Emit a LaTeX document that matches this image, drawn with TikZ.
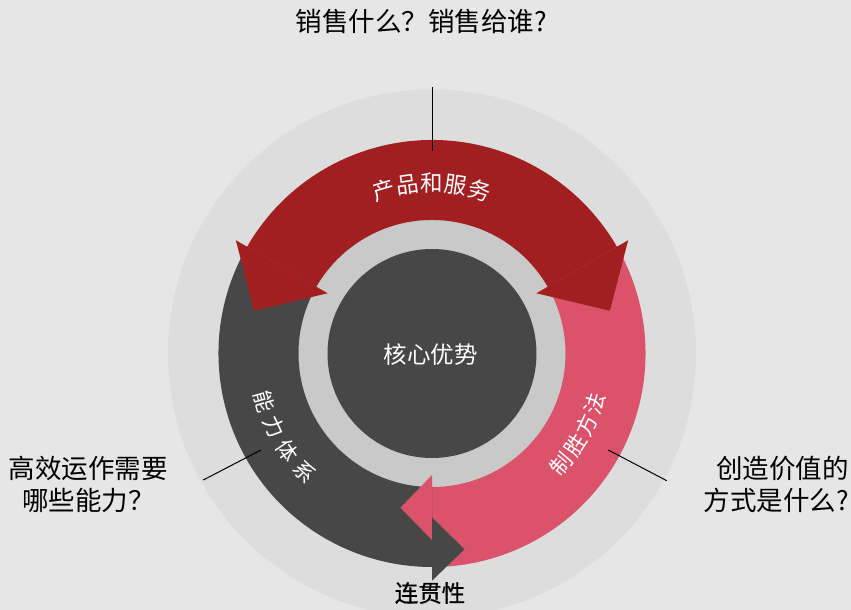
\documentclass[tikz,border=0pt]{standalone}
\usepackage{fontspec}
\setmainfont{Noto Sans CJK SC}
\newfontfamily\medfont[FakeBold=0.8]{Noto Sans CJK SC}
\definecolor{bgc}{HTML}{E6E6E6}
\definecolor{bigc}{HTML}{DDDDDD}
\definecolor{ringc}{HTML}{C9C9C9}
\definecolor{darkc}{HTML}{474747}
\definecolor{redc}{HTML}{A11F21}
\definecolor{pinkc}{HTML}{DB536B}

\begin{document}
\begin{tikzpicture}[x=1pt, y=1pt,
  ringtxt/.style={text=white, font=\fontsize{21.5}{21.5}\selectfont, inner sep=0pt},
  asktxt/.style={font=\fontsize{26.5}{32}\selectfont, inner sep=0pt},
  leadline/.style={line width=1pt}]
\useasboundingbox[fill=bgc] (-432,-256.5) rectangle (419,353.5);
\fill[bigc] (0,0) circle (264);
\fill[ringc] (0,0) circle (133.5);
\fill[darkc] (0,0) circle (104.5);
\fill[pinkc] (30:213.5) arc[start angle=30, end angle=-90, radius=213.5] -- (-90:133.5) arc[start angle=-90, end angle=30, radius=133.5] -- cycle;
\fill[darkc] (150:213.5) arc[start angle=150, end angle=270, radius=213.5] -- (270:133.5) arc[start angle=270, end angle=150, radius=133.5] -- cycle;
\fill[redc] (150:213.5) arc[start angle=150, end angle=30, radius=213.5] -- (30:133.5) arc[start angle=30, end angle=150, radius=133.5] -- cycle;
\fill[redc] (150:120.5) -- (166.5:183) -- (150:226.5) -- cycle;
\fill[redc] (30:120.5) -- (13.5:183) -- (30:226.5) -- cycle;
\fill[pinkc] (0,-121.5) -- (-31.5,-154.2) -- (0,-186.5) -- cycle;
\fill[darkc] (0,-163.8) -- (32.5,-195.8) -- (0,-227.2) -- cycle;
\foreach \c/\a [count=\i] in {产/106.4,品/98.2,和/90,服/81.8,务/73.6}
  \node[ringtxt, font=\fontsize{22.5}{22.5}\selectfont, rotate=\a-90] (cp\i) at (\a:170) {\c};
\foreach \c/\a [count=\i] in {能/196,力/205,体/214,系/223}
  \node[ringtxt, rotate=\a+90] (nl\i) at (\a:174) {\c};
\foreach \c/\a [count=\i] in {制/-40.5,胜/-32.7,方/-24.9,法/-17.1}
  \node[ringtxt, rotate=\a+90] (zs\i) at (\a:170) {\c};
\node[text=white, font=\fontsize{23.5}{24}\selectfont] (core) at (-1,-1.5) {核心优势};
\node[font=\medfont\fontsize{23.5}{24}\selectfont] (link) at (-2,-239.5) {连贯性};
\node[asktxt] (ask) at (-10.5,332.5) {销售什么？销售给谁?};
\node[asktxt, align=center] (need) at (-343.5,-130.5) {高效运作需要\\哪些能力？};
\node[asktxt, align=right, anchor=east] (way) at (417,-130.5) {创造价值的\\方式是什么?};
\coordinate (t1) at (0,266.5);
\coordinate (t2) at (0,202.5);
\coordinate (l1) at (-228.7,-126.5);
\coordinate (l2) at (-171,-96.5);
\coordinate (r1) at (176.3,-96.5);
\coordinate (r2) at (234.7,-127.2);
\draw[leadline] (t1) -- (t2);
\draw[leadline] (l1) -- (l2);
\draw[leadline] (r1) -- (r2);
\end{tikzpicture}
\end{document}
